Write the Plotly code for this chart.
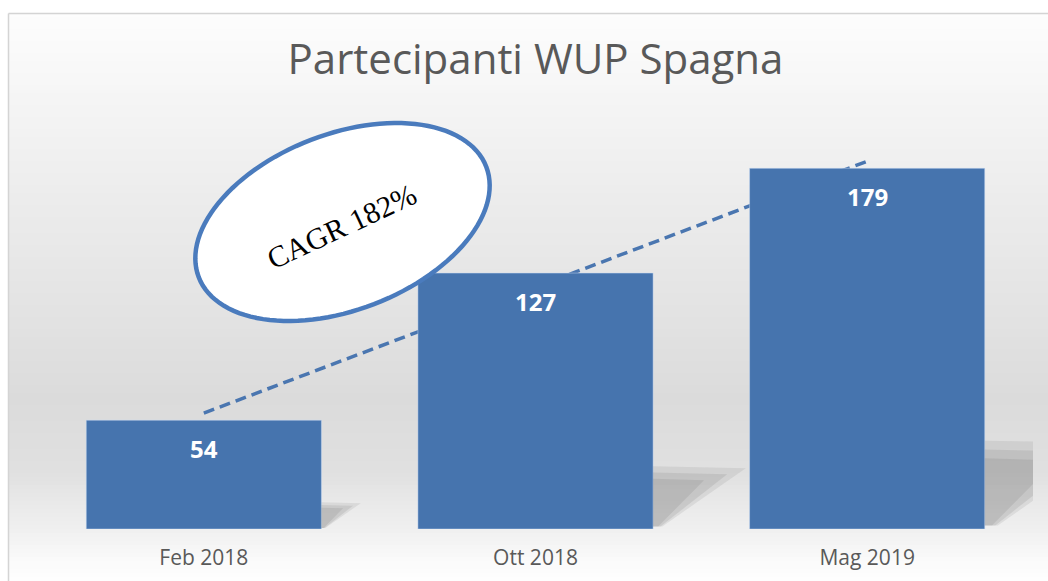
import math
import plotly.graph_objects as go

# ---------------- data ----------------
categories = ["Feb 2018", "Ott 2018", "Mag 2019"]
participants = [54, 127, 179]
trend_start_end = [57.5, 182.5]   # linear trend line, value at first and last category
title_text = "Partecipanti WUP Spagna"
cagr_label = "CAGR 182%"

# ---------------- geometry / style ----------------
W, H = 1048, 581
ML, MR, MT, MB = 38, 15, 126, 52
YMAX = 200
PW = W - ML - MR
PH = H - MT - MB
BAR_W = 0.709
BAR_COLOR = "#4674ae"
LINE_BLUE = "#4a76b0"


def pxx(x):
    return (x - ML) / PW


def pxy(y):
    return (H - MB - y) / PH


fig = go.Figure()

shapes = []

# background vertical gradient (stripes)
stops = [(13, 253), (100, 245), (200, 236), (300, 228), (400, 219),
         (470, 224), (530, 240), (560, 250), (581, 254)]


def gray_at(y):
    for (y0, g0), (y1, g1) in zip(stops[:-1], stops[1:]):
        if y0 <= y <= y1:
            t = (y - y0) / (y1 - y0)
            return g0 + (g1 - g0) * t
    return stops[-1][1]


step = 4
y = 13
while y < H:
    y2 = min(y + step, H)
    g = int(round(gray_at((y + y2) / 2)))
    col = f"rgb({g},{g},{g})"
    shapes.append(dict(type="rect", xref="paper", yref="paper",
                       x0=pxx(8), x1=pxx(W + 2), y0=pxy(y2 + 0.5), y1=pxy(y),
                       fillcolor=col, line=dict(width=0), layer="below"))
    y = y2

# outer frame (top + left)
shapes.append(dict(type="line", xref="paper", yref="paper",
                   x0=pxx(8.5), x1=pxx(W + 2), y0=pxy(13.5), y1=pxy(13.5),
                   line=dict(color="#d4d4d4", width=1.5), layer="below"))
shapes.append(dict(type="line", xref="paper", yref="paper",
                   x0=pxx(8.5), x1=pxx(8.5), y0=pxy(13.5), y1=pxy(H + 2),
                   line=dict(color="#d4d4d4", width=1.5), layer="below"))

# dashed trend line (behind bars)
shapes.append(dict(type="line", xref="x", yref="y",
                   x0=0, x1=len(categories) - 1,
                   y0=trend_start_end[0], y1=trend_start_end[1],
                   line=dict(color=LINE_BLUE, width=3.5, dash="11px,6px"),
                   layer="below"))

# bar shadows (decorative, derived from bar values)
for i, v in enumerate(participants):
    R = i + BAR_W / 2
    w = 0.0022 * v
    top = 0.245 * v
    for (sx, sy, op) in [(1.0, 1.0, 0.10), (0.8, 0.9, 0.12), (0.55, 0.8, 0.12)]:
        t = top * sy
        ww = w * sx
        fig.add_trace(go.Scatter(
            x=[R, R, R + ww, R + 0.1 * ww, R],
            y=[0.01 * v, t, t * 0.97, 0.01 * v, 0.01 * v],
            fill="toself", mode="none",
            fillcolor=f"rgba(80,80,80,{op})", hoverinfo="skip",
            showlegend=False))

# bars
fig.add_trace(go.Bar(
    x=list(range(len(categories))), y=participants, width=BAR_W,
    marker=dict(color=BAR_COLOR, line=dict(width=0.8, color="rgba(200,220,245,0.6)")),
    showlegend=False, hoverinfo="x+y"))

annotations = []
for i, v in enumerate(participants):
    annotations.append(dict(x=i, y=v, xref="x", yref="y", yshift=-28,
                            text=f"<b>{v}</b>", showarrow=False,
                            font=dict(family="Open Sans", size=24, color="white"),
                            yanchor="middle"))

# ellipse with CAGR label
cx, cy, a, b, th = 342.5, 222.0, 154.0, 88.0, math.radians(21)
pts = []
for k in range(121):
    t = 2 * math.pi * k / 120
    ex = cx + a * math.cos(t) * math.cos(th) + b * math.sin(t) * math.sin(th)
    ey = cy - a * math.cos(t) * math.sin(th) + b * math.sin(t) * math.cos(th)
    pts.append((pxx(ex), pxy(ey)))
path = "M " + " L ".join(f"{x:.5f},{y:.5f}" for x, y in pts) + " Z"
shapes.append(dict(type="path", xref="paper", yref="paper", path=path,
                   fillcolor="white", line=dict(color="#4a7bbd", width=4.5),
                   layer="above"))

annotations.append(dict(x=pxx(341), y=pxy(226), xref="paper", yref="paper",
                        text=cagr_label, showarrow=False, textangle=-25,
                        font=dict(family="Liberation Serif", size=30, color="black"),
                        xanchor="center", yanchor="middle"))

fig.update_layout(
    width=W, height=H,
    margin=dict(l=ML, r=MR, t=MT, b=MB, pad=0, autoexpand=False),
    paper_bgcolor="white", plot_bgcolor="rgba(0,0,0,0)",
    title=dict(text=title_text, x=0.5, xref="paper", xanchor="center",
               y=1 - 59 / H, yref="container", yanchor="middle",
               font=dict(family="Open Sans", size=42, color="#595959")),
    xaxis=dict(range=[-0.5, len(categories) - 0.5], tickvals=list(range(len(categories))),
               ticktext=categories, showgrid=False, zeroline=False, showline=False,
               ticks="", ticklabelstandoff=14, automargin=False,
               tickfont=dict(family="Open Sans", size=21, color="#595959")),
    yaxis=dict(range=[0, YMAX], visible=False, showgrid=False, zeroline=False,
               automargin=False),
    shapes=shapes, annotations=annotations,
    showlegend=False,
)

fig.write_html("out.html", config={"displayModeBar": False},
               post_script="document.body.style.margin='0';document.body.style.padding='0';")
